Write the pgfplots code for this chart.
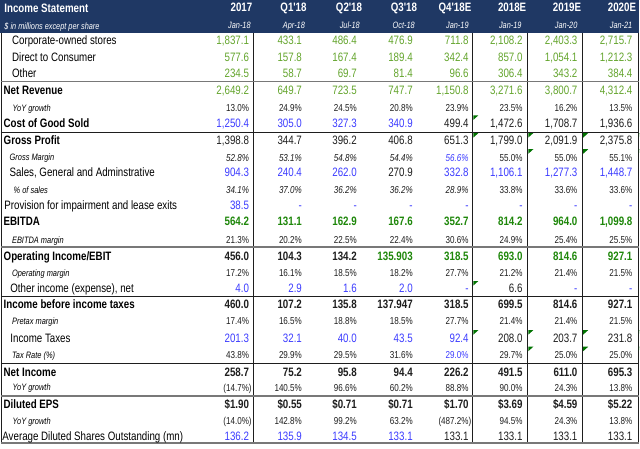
\documentclass[border=0pt]{standalone}
\usepackage{pgfplots}
\pgfplotsset{compat=1.18}
\usepackage{fontspec}
\setmainfont{Liberation Sans}[FakeStretch=0.8, Ligatures=TeXOff]
\definecolor{hdr}{RGB}{31,56,100}
\definecolor{lg}{RGB}{100,165,45}
\definecolor{dg}{RGB}{30,135,10}
\definecolor{bl}{RGB}{60,60,255}
\definecolor{tx}{RGB}{30,30,30}
\definecolor{tri}{RGB}{0,115,0}
\definecolor{dl}{RGB}{120,120,120}
\newcommand{\fN}{\fontsize{12.2bp}{14bp}\selectfont}
\newcommand{\fS}{\fontsize{9.3bp}{11bp}\selectfont\itshape}
\newcommand{\fP}{\fontsize{10.1bp}{12bp}\selectfont}
\newcommand{\fH}{\fontsize{9.2bp}{11bp}\selectfont\itshape}
\tikzset{
  nv/.style={font=\fN, inner sep=0pt, outer sep=0pt, text height=8.7bp, text depth=0pt, anchor=east, text=tx},
  nb/.style={nv, font=\fN\bfseries},
  pv/.style={font=\fP, inner sep=0pt, outer sep=0pt, text height=7.2bp, text depth=0pt, anchor=east, text=tx},
  pi/.style={pv, font=\fP\itshape},
  ln/.style={font=\fN, inner sep=0pt, outer sep=0pt, text height=8.7bp, text depth=0pt, anchor=west, text=black},
  lb/.style={ln, font=\fN\bfseries},
  ls/.style={font=\fS, inner sep=0pt, outer sep=0pt, text height=6.7bp, text depth=0pt, anchor=west, text=black},
  hb/.style={font=\fN\bfseries, inner sep=0pt, outer sep=0pt, text height=8.7bp, text depth=0pt, text=white},
  hs/.style={font=\fH, inner sep=0pt, outer sep=0pt, text height=6.6bp, text depth=0pt, text=white},
}
\newcommand\Row[9]{%
  \node[#2] at (249,#1) {#3};
  \node[#2] at (302,#1) {#4};
  \node[#2] at (357,#1) {#5};
  \node[#2] at (413,#1) {#6};
  \node[#2] at (469,#1) {#7};
  \node[#2] at (523,#1) {#8};
  \node[#2] at (578,#1) {#9};
  \RowLast{#1}{#2}}
\newcommand\RowLast[3]{\node[#2] at (633,#1) {#3};}
\begin{document}
\begin{tikzpicture}
\begin{axis}[
  scale only axis, width=640bp, height=449bp,
  xmin=0, xmax=640, ymin=0, ymax=449, y dir=reverse,
  hide axis, clip=false]
\fill[white] (0,0) rectangle (640,449);
% header
\fill[hdr] (0,0) rectangle (640,33.3);
\node[hb, anchor=west] at (4,8) {Income Statement};
\node[hb, anchor=east] at (252.3,7.5) {2017};
\node[hb, anchor=east] at (306.7,7.5) {Q1'18};
\node[hb, anchor=east] at (362.3,7.5) {Q2'18};
\node[hb, anchor=east] at (417.3,7.5) {Q3'18};
\node[hb, anchor=east] at (471.7,7.5) {Q4'18E};
\node[hb, anchor=east] at (526.7,7.5) {2018E};
\node[hb, anchor=east] at (581.7,7.5) {2019E};
\node[hb, anchor=east] at (636.7,7.5) {2020E};
\node[hs, anchor=west] at (4,26) {\$ in millions except per share};
\node[hs, anchor=east] at (250.7,25) {Jan-18};
\node[hs, anchor=east] at (305,25) {Apr-18};
\node[hs, anchor=east] at (360,25) {Jul-18};
\node[hs, anchor=east] at (415,25) {Oct-18};
\node[hs, anchor=east] at (469,25) {Jan-19};
\node[hs, anchor=east] at (522,25) {Jan-19};
\node[hs, anchor=east] at (578,25) {Jan-20};
\node[hs, anchor=east] at (633,25) {Jan-21};
% grid lines
\draw[tx, line width=0.9bp] (1,33.3) -- (1,443.5);
\draw[tx, line width=0.9bp] (253.3,33.3) -- (253.3,443.5);
\draw[tx, line width=0.9bp] (473.3,33.3) -- (473.3,443.5);
\draw[tx, line width=0.9bp] (528.3,33.3) -- (528.3,443.5);
\draw[tx, line width=0.9bp] (583.3,33.3) -- (583.3,443.5);
\draw[tx, line width=0.9bp] (639.3,33.3) -- (639.3,443.5);
\draw[dl, line width=1.8bp] (0.5,81.7) -- (639.8,81.7);
\draw[tx, line width=1bp] (0.5,132.7) -- (639.8,132.7);
\draw[dl, line width=1.8bp] (0.5,247.7) -- (639.8,247.7);
\draw[tx, line width=1bp] (0.5,296.7) -- (639.8,296.7);
\draw[tx, line width=1bp] (0.5,364.3) -- (639.8,364.3);
\draw[dl, line width=1.8bp] (0.5,396.7) -- (639.8,396.7);
\draw[dl, line width=1.8bp] (0.5,443.5) -- (639.8,443.5);
% comment triangles
\fill[tri] (473.8,115.5) -- (478.8,115.5) -- (473.8,120) -- cycle;
\fill[tri] (473.8,133.3) -- (478.8,133.3) -- (473.8,137.8) -- cycle;
\fill[tri] (528.8,133.3) -- (533.8,133.3) -- (528.8,137.8) -- cycle;
\fill[tri] (583.8,133.3) -- (588.8,133.3) -- (583.8,137.8) -- cycle;
\fill[tri] (639.6,133.3) -- (640,133.3) -- (639.6,137.8) -- cycle;
\fill[tri] (528.8,149.5) -- (533.8,149.5) -- (528.8,154) -- cycle;
\fill[tri] (583.8,149.5) -- (588.8,149.5) -- (583.8,154) -- cycle;
\fill[tri] (639.6,149.5) -- (640,149.5) -- (639.6,154) -- cycle;
\fill[tri] (473.8,281.5) -- (478.8,281.5) -- (473.8,286) -- cycle;
\fill[tri] (473.8,330.7) -- (478.8,330.7) -- (473.8,335.2) -- cycle;
\fill[tri] (528.8,330.7) -- (533.8,330.7) -- (528.8,335.2) -- cycle;
\fill[tri] (583.8,330.7) -- (588.8,330.7) -- (583.8,335.2) -- cycle;
\fill[tri] (639.6,330.7) -- (640,330.7) -- (639.6,335.2) -- cycle;
\fill[tri] (528.8,347.3) -- (533.8,347.3) -- (528.8,351.8) -- cycle;
\fill[tri] (583.8,347.3) -- (588.8,347.3) -- (583.8,351.8) -- cycle;
\fill[tri] (639.6,347.3) -- (640,347.3) -- (639.6,351.8) -- cycle;
% labels
\node[ln] at (11.7,40.7) {Corporate-owned stores};
\node[ln] at (11.7,57.3) {Direct to Consumer};
\node[ln] at (11.7,73.3) {Other};
\node[lb] at (3.3,90) {Net Revenue};
\node[ls] at (12.3,108.3) {YoY growth};
\node[lb] at (3.3,123.3) {Cost of Good Sold};
\node[lb] at (3.3,140) {Gross Profit};
\node[ls] at (9.3,157.7) {Gross Margin};
\node[ln] at (9.3,172.7) {Sales, General and Adminstrative};
\node[ls] at (13.3,190) {\% of sales};
\node[ln] at (4,206) {Provision for impairment and lease exits};
\node[lb] at (3.3,222) {EBITDA};
\node[ls] at (11.7,240.3) {EBITDA margin};
\node[lb] at (3.3,256.7) {Operating Income/EBIT};
\node[ls] at (11.7,273.3) {Operating margin};
\node[ln] at (10,288.3) {Other income (expense), net};
\node[lb] at (3.3,305) {Income before income taxes};
\node[ls] at (11.7,321.7) {Pretax margin};
\node[ln] at (10,338.3) {Income Taxes};
\node[ls] at (11.7,355.7) {Tax Rate (\%)};
\node[lb] at (3.3,372.3) {Net Income};
\node[ls] at (12.3,388.3) {YoY growth};
\node[lb] at (3.3,405) {Diluted EPS};
\node[ls] at (12.3,421.7) {YoY growth};
\node[ln] at (2,436.7) {Average Diluted Shares Outstanding (mn)};
% values
\Row{40.7}{nv,text=lg}{1,837.1}{433.1}{486.4}{476.9}{711.8}{2,108.2}{2,403.3}{2,715.7}
\Row{57.3}{nv,text=lg}{577.6}{157.8}{167.4}{189.4}{342.4}{857.0}{1,054.1}{1,212.3}
\Row{73.3}{nv,text=lg}{234.5}{58.7}{69.7}{81.4}{96.6}{306.4}{343.2}{384.4}
\Row{90}{nv,text=lg}{2,649.2}{649.7}{723.5}{747.7}{1,150.8}{3,271.6}{3,800.7}{4,312.4}
\Row{108.3}{pv}{13.0\%}{24.9\%}{24.5\%}{20.8\%}{23.9\%}{23.5\%}{16.2\%}{13.5\%}
\Row{123.3}{nv}{\color{bl}1,250.4}{\color{bl}305.0}{\color{bl}327.3}{\color{bl}340.9}{499.4}{1,472.6}{1,708.7}{1,936.6}
\Row{140}{nv}{1,398.8}{344.7}{396.2}{406.8}{651.3}{1,799.0}{2,091.9}{2,375.8}
\Row{157.7}{pi}{52.8\%}{53.1\%}{54.8\%}{54.4\%}{\color{bl}56.6\%}{\upshape 55.0\%}{\upshape 55.0\%}{\upshape 55.1\%}
\Row{172.7}{nv,text=bl}{904.3}{240.4}{262.0}{\color{tx}270.9}{332.8}{1,106.1}{1,277.3}{1,448.7}
\Row{190}{pi}{34.1\%}{37.0\%}{36.2\%}{36.2\%}{28.9\%}{\upshape 33.8\%}{\upshape 33.6\%}{\upshape 33.6\%}
\Row{206}{nv,text=bl}{38.5}{-}{-}{-}{-}{-}{-}{-}
\Row{222}{nb,text=dg}{564.2}{131.1}{162.9}{167.6}{352.7}{814.2}{964.0}{1,099.8}
\Row{240.3}{pv}{21.3\%}{20.2\%}{22.5\%}{22.4\%}{30.6\%}{24.9\%}{25.4\%}{25.5\%}
\Row{256.7}{nb}{456.0}{104.3}{134.2}{\color{dg}135.903}{\color{dg}318.5}{\color{dg}693.0}{\color{dg}814.6}{\color{dg}927.1}
\Row{273.3}{pv}{17.2\%}{16.1\%}{18.5\%}{18.2\%}{27.7\%}{21.2\%}{21.4\%}{21.5\%}
\Row{288.3}{nv,text=bl}{4.0}{2.9}{1.6}{2.0}{-}{\color{tx}6.6}{-}{-}
\Row{305}{nb}{460.0}{107.2}{135.8}{137.947}{318.5}{699.5}{814.6}{927.1}
\Row{321.7}{pv}{17.4\%}{16.5\%}{18.8\%}{18.5\%}{27.7\%}{21.4\%}{21.4\%}{21.5\%}
\Row{338.3}{nv,text=bl}{201.3}{32.1}{40.0}{43.5}{92.4}{\color{tx}208.0}{\color{tx}203.7}{\color{tx}231.8}
\Row{355.7}{pv}{43.8\%}{29.9\%}{29.5\%}{31.6\%}{\color{bl}29.0\%}{29.7\%}{25.0\%}{25.0\%}
\Row{372.3}{nb}{258.7}{75.2}{95.8}{94.4}{226.2}{491.5}{611.0}{695.3}
\Row{388.3}{pv}{(14.7\%\rlap{)}}{140.5\%}{96.6\%}{60.2\%}{88.8\%}{90.0\%}{24.3\%}{13.8\%}
\Row{405}{nb}{\$1.90}{\$0.55}{\$0.71}{\$0.71}{\$1.70}{\$3.69}{\$4.59}{\$5.22}
\Row{421.7}{pv}{(14.0\%\rlap{)}}{142.8\%}{99.2\%}{63.2\%}{(487.2\%\rlap{)}}{94.5\%}{24.3\%}{13.8\%}
\Row{436.7}{nv,text=bl}{136.2}{135.9}{134.5}{133.1}{\color{tx}133.1}{\color{tx}133.1}{\color{tx}133.1}{\color{tx}133.1}
\end{axis}
\end{tikzpicture}
\end{document}
